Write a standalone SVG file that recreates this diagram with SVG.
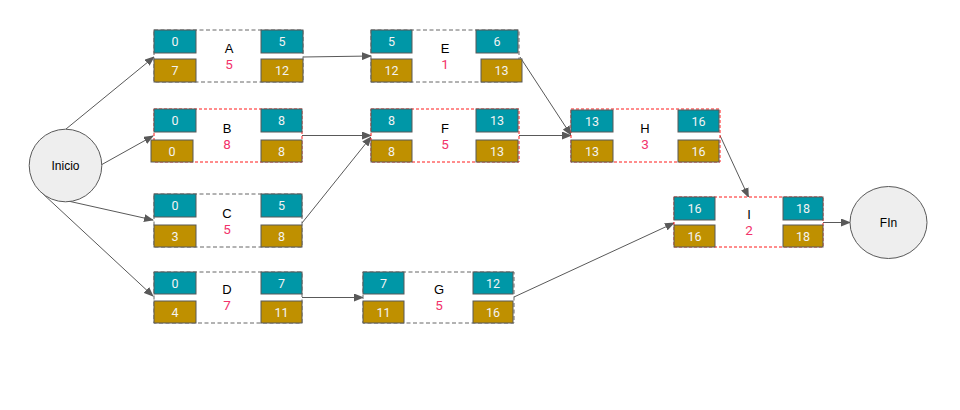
<svg xmlns="http://www.w3.org/2000/svg" width="960" height="410" viewBox="0 0 960 410">
<defs>
<marker id="ah" markerWidth="10" markerHeight="8" refX="9" refY="4" orient="auto" markerUnits="userSpaceOnUse">
<path d="M0,0 L10,4 L0,8 z" fill="#595959"/>
</marker>
<style>
.og{fill:#fff;stroke:#666;stroke-width:1;stroke-dasharray:4,2.5}
.or{fill:#fff;stroke:#ff1a1a;stroke-width:1;stroke-dasharray:3,2}
.t{fill:#0097a7;stroke:#595959;stroke-width:1}
.g{fill:#bf9000;stroke:#595959;stroke-width:1}
.n{font-family:Roboto,"Liberation Sans",sans-serif;font-size:12.5px;fill:#f3f3f3;text-anchor:middle}
.l{font-family:"Liberation Sans",Arial,sans-serif;font-size:13px;fill:#000;text-anchor:middle}
.d{font-family:Roboto,"Liberation Sans",sans-serif;font-size:13.5px;fill:#f2336b;text-anchor:middle}
.c{fill:#eeeeee;stroke:#595959;stroke-width:1}
.e{fill:none;stroke:#595959;stroke-width:1;marker-end:url(#ah)}
</style>
</defs>
<rect width="960" height="410" fill="#fff"/>

<g id="connectors">
<line class="e" x1="66" y1="129" x2="154" y2="57"/>
<line class="e" x1="101" y1="165" x2="153" y2="136"/>
<line class="e" x1="68" y1="201" x2="153" y2="220"/>
<line class="e" x1="42" y1="193" x2="153" y2="296"/>
<line class="e" x1="303" y1="57" x2="371" y2="56"/>
<line class="e" x1="302" y1="135.5" x2="371" y2="135.5"/>
<line class="e" x1="302" y1="223" x2="371" y2="137"/>
<line class="e" x1="520" y1="57" x2="571" y2="135"/>
<line class="e" x1="519" y1="135.5" x2="571" y2="135.5"/>
<line class="e" x1="302" y1="297.5" x2="363" y2="297.5"/>
<line class="e" x1="514" y1="297" x2="674" y2="223"/>
<line class="e" x1="720" y1="135.5" x2="748.5" y2="197"/>
<line class="e" x1="823" y1="222.5" x2="850" y2="222.5"/>
</g>

<g id="inicio">
<circle class="c" cx="65.5" cy="165.5" r="36.3"/>
<text class="l" x="65.5" y="170" style="font-size:12px">Inicio</text>
</g>

<g id="fin">
<ellipse class="c" cx="888.5" cy="222.5" rx="38.5" ry="36"/>
<text class="l" x="888.5" y="227" style="font-size:12px">FIn</text>
</g>

<g id="node-A">
<rect class="og" x="154" y="30" width="149" height="52"/>
<rect class="t" x="154" y="30" width="42" height="23"/>
<rect class="t" x="261" y="30" width="42" height="23"/>
<rect class="g" x="154" y="59" width="42" height="23"/>
<rect class="g" x="261" y="59" width="42" height="23"/>
<text class="n" x="175" y="46">0</text>
<text class="n" x="282" y="46">5</text>
<text class="n" x="175" y="75">7</text>
<text class="n" x="282" y="75">12</text>
<text class="l" x="229" y="53">A</text>
<text class="d" x="229" y="69">5</text>
</g>

<g id="node-E">
<rect class="og" x="371" y="30" width="148" height="52"/>
<rect class="t" x="371" y="30" width="41" height="23"/>
<rect class="t" x="476" y="30" width="42" height="23"/>
<rect class="g" x="371" y="59" width="41" height="23"/>
<rect class="g" x="481" y="59" width="41" height="23"/>
<text class="n" x="391.5" y="46">5</text>
<text class="n" x="497" y="46">6</text>
<text class="n" x="391.5" y="75">12</text>
<text class="n" x="501.5" y="75">13</text>
<text class="l" x="445" y="53">E</text>
<text class="d" x="445" y="69">1</text>
</g>

<g id="node-B">
<rect class="or" x="154" y="109" width="148" height="53"/>
<rect class="t" x="154" y="109" width="42" height="23"/>
<rect class="t" x="261" y="109" width="41" height="23"/>
<rect class="g" x="151" y="140" width="42" height="22"/>
<rect class="g" x="261" y="140" width="41" height="22"/>
<text class="n" x="175" y="125">0</text>
<text class="n" x="281.5" y="125">8</text>
<text class="n" x="172" y="155.5">0</text>
<text class="n" x="281.5" y="155.5">8</text>
<text class="l" x="227" y="133">B</text>
<text class="d" x="227" y="149">8</text>
</g>

<g id="node-F">
<rect class="or" x="371" y="109" width="148" height="53"/>
<rect class="t" x="371" y="109" width="41" height="23"/>
<rect class="t" x="476" y="109" width="42" height="23"/>
<rect class="g" x="371" y="140" width="41" height="22"/>
<rect class="g" x="476" y="140" width="42" height="22"/>
<text class="n" x="391.5" y="125">8</text>
<text class="n" x="497" y="125">13</text>
<text class="n" x="391.5" y="155.5">8</text>
<text class="n" x="497" y="155.5">13</text>
<text class="l" x="445" y="133">F</text>
<text class="d" x="445" y="149">5</text>
</g>

<g id="node-C">
<rect class="og" x="154" y="194" width="148" height="53"/>
<rect class="t" x="154" y="194" width="42" height="23"/>
<rect class="t" x="261" y="194" width="41" height="23"/>
<rect class="g" x="154" y="225" width="42" height="22"/>
<rect class="g" x="261" y="225" width="41" height="22"/>
<text class="n" x="175" y="210">0</text>
<text class="n" x="281.5" y="210">5</text>
<text class="n" x="175" y="240.5">3</text>
<text class="n" x="281.5" y="240.5">8</text>
<text class="l" x="227" y="218">C</text>
<text class="d" x="227" y="234">5</text>
</g>

<g id="node-D">
<rect class="og" x="154" y="272" width="148" height="51"/>
<rect class="t" x="154" y="272" width="42" height="22"/>
<rect class="t" x="261" y="272" width="41" height="22"/>
<rect class="g" x="154" y="301" width="42" height="22"/>
<rect class="g" x="261" y="301" width="41" height="22"/>
<text class="n" x="175" y="287.5">0</text>
<text class="n" x="281.5" y="287.5">7</text>
<text class="n" x="175" y="316.5">4</text>
<text class="n" x="281.5" y="316.5">11</text>
<text class="l" x="227" y="294">D</text>
<text class="d" x="227" y="310">7</text>
</g>

<g id="node-G">
<rect class="og" x="363" y="272" width="151" height="51"/>
<rect class="t" x="363" y="272" width="41" height="22"/>
<rect class="t" x="473" y="272" width="40" height="22"/>
<rect class="g" x="363" y="301" width="41" height="22"/>
<rect class="g" x="473" y="301" width="40" height="22"/>
<text class="n" x="383.5" y="287.5">7</text>
<text class="n" x="493" y="287.5">12</text>
<text class="n" x="383.5" y="316.5">11</text>
<text class="n" x="493" y="316.5">16</text>
<text class="l" x="439" y="294">G</text>
<text class="d" x="439" y="310">5</text>
</g>

<g id="node-H">
<rect class="or" x="571" y="109" width="149" height="53"/>
<rect class="t" x="571" y="110" width="42" height="22"/>
<rect class="t" x="678" y="110" width="41" height="22"/>
<rect class="g" x="571" y="140" width="42" height="22"/>
<rect class="g" x="678" y="140" width="41" height="22"/>
<text class="n" x="592" y="125.5">13</text>
<text class="n" x="698.5" y="125.5">16</text>
<text class="n" x="592" y="155.5">13</text>
<text class="n" x="698.5" y="155.5">16</text>
<text class="l" x="645" y="133">H</text>
<text class="d" x="645" y="149">3</text>
</g>

<g id="node-I">
<rect class="or" x="674" y="197" width="149" height="50"/>
<rect class="t" x="674" y="197" width="41" height="23"/>
<rect class="t" x="783" y="197" width="40" height="23"/>
<rect class="g" x="674" y="225" width="41" height="22"/>
<rect class="g" x="783" y="225" width="40" height="22"/>
<text class="n" x="694.5" y="213">16</text>
<text class="n" x="803" y="213">18</text>
<text class="n" x="694.5" y="240.5">16</text>
<text class="n" x="803" y="240.5">18</text>
<text class="l" x="749" y="219">I</text>
<text class="d" x="749" y="235">2</text>
</g>
</svg>
